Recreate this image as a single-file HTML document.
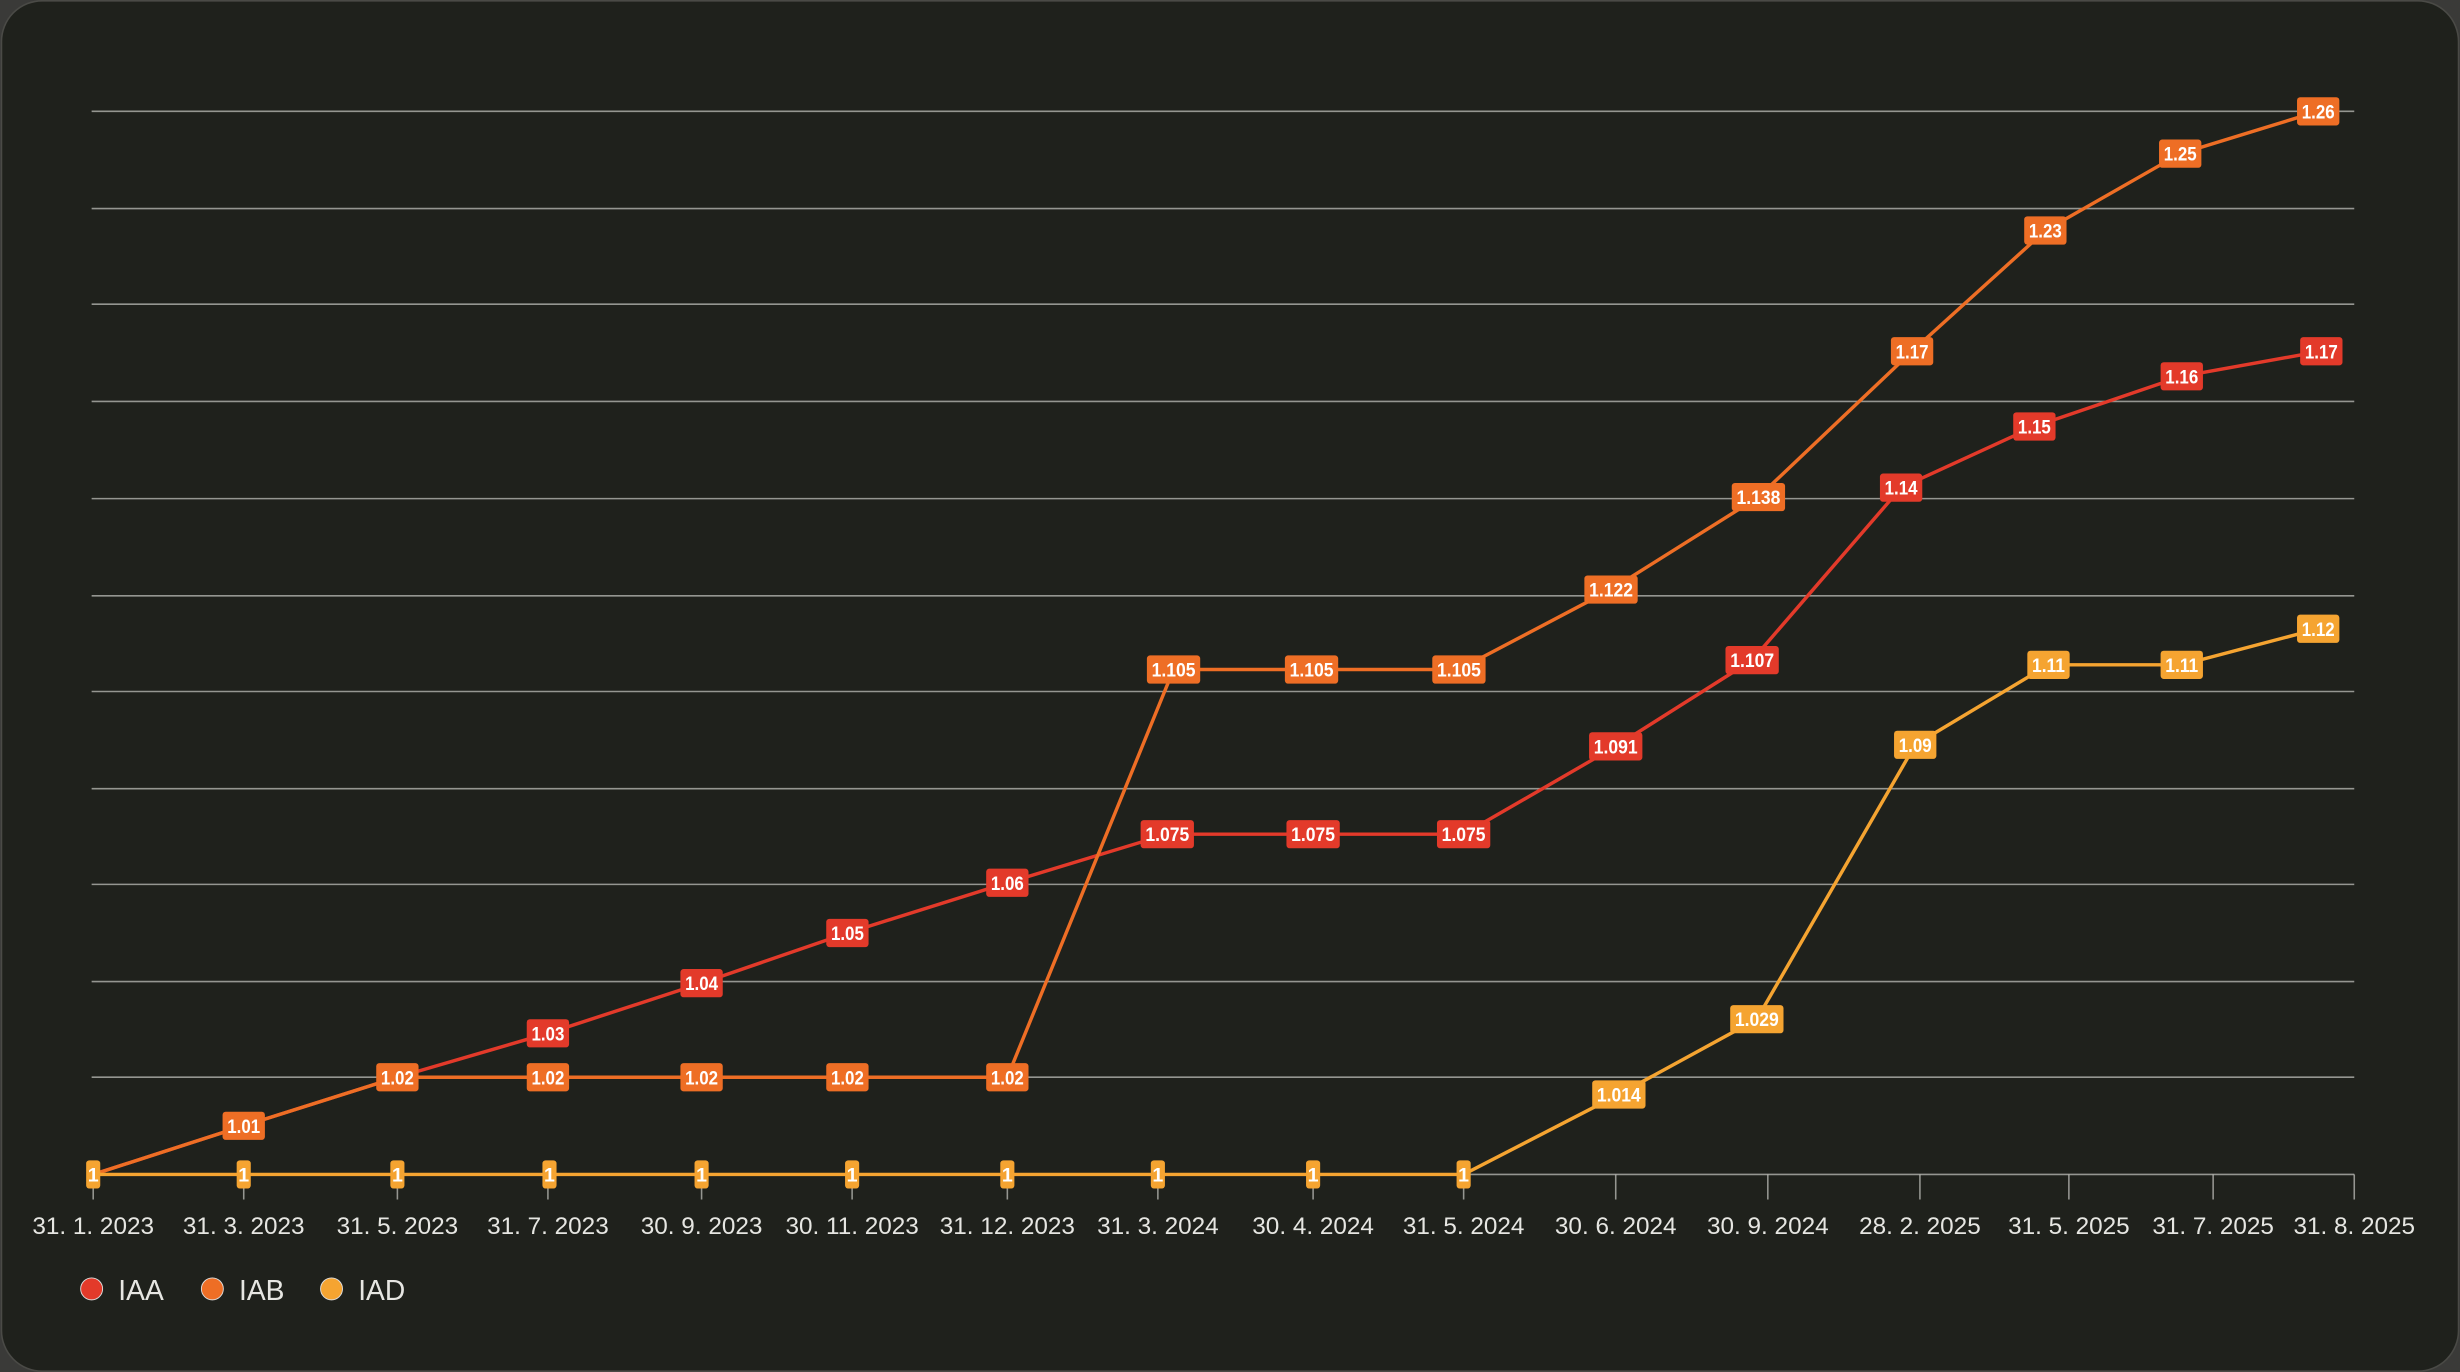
<!DOCTYPE html>
<html><head><meta charset="utf-8"><style>
html,body{margin:0;padding:0;background:#3a3a38;}
svg{display:block}
text{font-family:"Liberation Sans",sans-serif}
</style></head><body>
<svg width="2460" height="1372" viewBox="0 0 1568 875" xmlns="http://www.w3.org/2000/svg">
<rect x="0" y="0" width="1568" height="875" fill="#3a3a38"/>
<rect x="0.5" y="0.5" width="1567" height="874" rx="26" fill="#1f211c" stroke="#4a4a46" stroke-width="1"/>
<g stroke="#bdbdb8" stroke-width="1" opacity="0.75">
<line x1="58" x2="1501" y1="71" y2="71"/><line x1="58" x2="1501" y1="133" y2="133"/>
<line x1="58" x2="1501" y1="194" y2="194"/><line x1="58" x2="1501" y1="256" y2="256"/>
<line x1="58" x2="1501" y1="318" y2="318"/><line x1="58" x2="1501" y1="380" y2="380"/>
<line x1="58" x2="1501" y1="441" y2="441"/><line x1="58" x2="1501" y1="503" y2="503"/>
<line x1="58" x2="1501" y1="564" y2="564"/><line x1="58" x2="1501" y1="626" y2="626"/>
<line x1="58" x2="1501" y1="687" y2="687"/><line x1="58" x2="1501" y1="749" y2="749"/>
</g>
<g stroke="#bdbdb8" stroke-width="1" opacity="0.75" id="ticks"></g>
<g id="xl" font-size="15.5" fill="#e6e6e2" text-anchor="middle"></g>
<g id="lines"></g>
<g id="labels"></g>
<g font-size="18" fill="#e6e6e2">
<circle cx="58" cy="822" r="7" fill="#e33a2a" stroke="#ddd" stroke-width="0.6"/><text x="75" y="829">IAA</text>
<circle cx="135" cy="822" r="7" fill="#ee6e25" stroke="#ddd" stroke-width="0.6"/><text x="152" y="829">IAB</text>
<circle cx="211" cy="822" r="7" fill="#f5a431" stroke="#ddd" stroke-width="0.6"/><text x="228" y="829">IAD</text>
</g>
<script>
const NS="http://www.w3.org/2000/svg";
function el(t,a,p,txt){const e=document.createElementNS(NS,t);for(const k in a)e.setAttribute(k,a[k]);if(txt!==undefined)e.textContent=txt;document.getElementById(p).appendChild(e);return e;}
const tx=[59,155,253,349,447,543,642,738,837,933,1030,1127,1224,1319,1411,1501];
const tl=["31. 1. 2023","31. 3. 2023","31. 5. 2023","31. 7. 2023","30. 9. 2023","30. 11. 2023","31. 12. 2023","31. 3. 2024","30. 4. 2024","31. 5. 2024","30. 6. 2024","30. 9. 2024","28. 2. 2025","31. 5. 2025","31. 7. 2025","31. 8. 2025"];
tx.forEach((x,i)=>{el("line",{x1:x,x2:x,y1:749,y2:765},"ticks");el("text",{x:x,y:787},"xl",tl[i]);});
const S={
IAA:{c:"#e33a2a",p:[[59,749,""],[155,718,""],[253,687,""],[349,659,"1.03"],[447,627,"1.04"],[540,595,"1.05"],[642,563,"1.06"],[744,532,"1.075"],[837,532,"1.075"],[933,532,"1.075"],[1030,476,"1.091"],[1117,421,"1.107"],[1212,311,"1.14"],[1297,272,"1.15"],[1391,240,"1.16"],[1480,224,"1.17"]]},
IAB:{c:"#ee6e25",p:[[59,749,""],[155,718,"1.01"],[253,687,"1.02"],[349,687,"1.02"],[447,687,"1.02"],[540,687,"1.02"],[642,687,"1.02"],[748,427,"1.105"],[836,427,"1.105"],[930,427,"1.105"],[1027,376,"1.122"],[1121,317,"1.138"],[1219,224,"1.17"],[1304,147,"1.23"],[1390,98,"1.25"],[1478,71,"1.26"]]},
IAD:{c:"#f5a431",p:[[59,749,"1"],[155,749,"1"],[253,749,"1"],[350,749,"1"],[447,749,"1"],[543,749,"1"],[642,749,"1"],[738,749,"1"],[837,749,"1"],[933,749,"1"],[1032,698,"1.014"],[1120,650,"1.029"],[1221,475,"1.09"],[1306,424,"1.11"],[1391,424,"1.11"],[1478,401,"1.12"]]}};
["IAA","IAB","IAD"].forEach(k=>{const s=S[k];el("polyline",{points:s.p.map(q=>q[0]+","+q[1]).join(" "),fill:"none",stroke:s.c,"stroke-width":2.2},"lines");});
["IAA","IAB","IAD"].forEach(k=>{const s=S[k];s.p.forEach(q=>{if(!q[2])return;const n=q[2].length;const w=n==1?9:7*n-1;
el("rect",{x:q[0]-w/2,y:q[1]-9,width:w,height:18,rx:2,fill:s.c},"labels");
const t=el("text",{x:q[0],y:q[1]+4.5,"font-size":12.5,"font-weight":"bold",fill:"#fff","text-anchor":"middle"},"labels",q[2]);
if(n>1){t.setAttribute("textLength",w-6);t.setAttribute("lengthAdjust","spacingAndGlyphs");}
});});
</script>
</svg>
</body></html>
